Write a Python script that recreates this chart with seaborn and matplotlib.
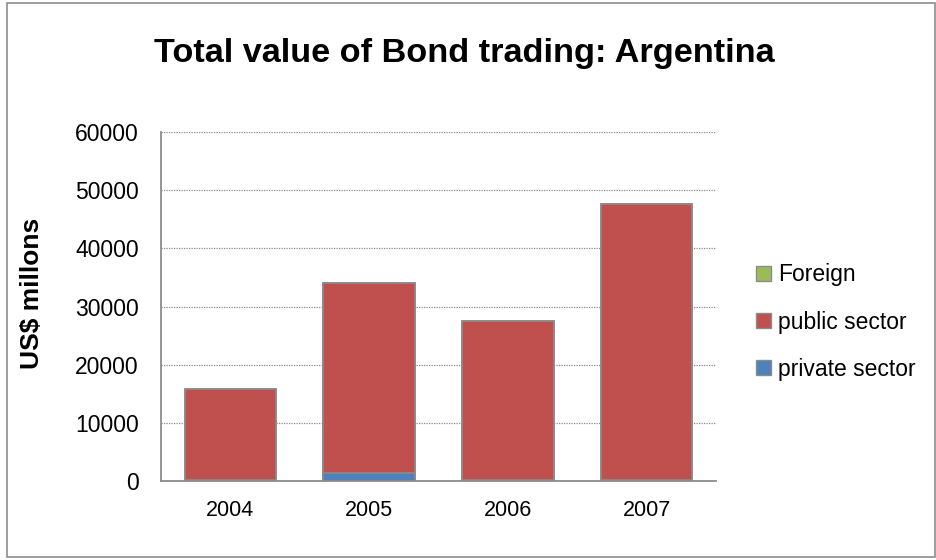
import numpy as np
import pandas as pd
import matplotlib
matplotlib.use("Agg")
import matplotlib.pyplot as plt
from matplotlib.patches import Patch, Rectangle
import seaborn as sns

# --- data ---
years = ["2004", "2005", "2006", "2007"]
private_sector = [200, 1400, 200, 200]
public_sector = [15600, 32700, 27300, 47500]
foreign = [0, 0, 0, 0]

series_names = ["Foreign", "public sector", "private sector"]
series_colors = ["#9BBB59", "#C0504D", "#4F81BD"]

df = pd.DataFrame({
    "year": years,
    "private": private_sector,
    "public": public_sector,
    "foreign": foreign,
})
# cumulative heights for layered (stacked) bars
df["cum_private"] = df["private"]
df["cum_public"] = df["cum_private"] + df["public"]
df["cum_foreign"] = df["cum_public"] + df["foreign"]

sns.set_style("white")
plt.rcParams["font.family"] = ["Liberation Sans", "DejaVu Sans"]
plt.rcParams["text.color"] = "black"
plt.rcParams["xtick.color"] = "black"
plt.rcParams["ytick.color"] = "black"
plt.rcParams["axes.labelcolor"] = "black"

fig = plt.figure(figsize=(9.37, 5.6), dpi=100)
ax = fig.add_axes([161 / 937, 79 / 560, 555 / 937, 349 / 560])

edge = "#8C8C8C"
for col, color in zip(["cum_foreign", "cum_public", "cum_private"], series_colors):
    sns.barplot(data=df, x="year", y=col, color=color, width=0.66,
                edgecolor=edge, linewidth=1.2, saturation=1, ax=ax)

ax.set_ylim(0, 60000)
ax.set_yticks(np.arange(0, 60001, 10000))
ax.set_xlim(-0.5, 3.5)
ax.yaxis.grid(True, linestyle=(0, (1, 1)), color="#8A8A8A", linewidth=0.9)
ax.set_axisbelow(True)
for s in ["top", "right"]:
    ax.spines[s].set_visible(False)
for s in ["left", "bottom"]:
    ax.spines[s].set_color("#8C8C8C")
    ax.spines[s].set_linewidth(1.3)
ax.tick_params(axis="y", length=0, labelsize=16.5, pad=16)
ax.tick_params(axis="x", length=0, labelsize=15.5, pad=14)
ax.set_xlabel("")
ax.set_ylabel("US$ millons", fontsize=19, fontweight="bold")
ax.yaxis.set_label_coords(-117 / 555, 0.539)

fig.suptitle("Total value of Bond trading: Argentina", x=0.496, y=0.932,
             fontsize=24.7, fontweight="bold")

handles = [Patch(facecolor=c, edgecolor="#8C8C8C", label=n)
           for n, c in zip(series_names, series_colors)]
fig.legend(handles=handles, loc="center left", bbox_to_anchor=(0.785, 0.425),
           frameon=False, fontsize=16.5, handlelength=0.65, handleheight=0.65,
           handletextpad=0.3, labelspacing=1.05)

# outer chart border
fig.patches.append(Rectangle((7 / 937, 3 / 560), 928 / 937, 554 / 560,
                             transform=fig.transFigure, fill=False,
                             edgecolor="#8C8C8C", linewidth=1.2))

fig.savefig("out.png", dpi=100)
